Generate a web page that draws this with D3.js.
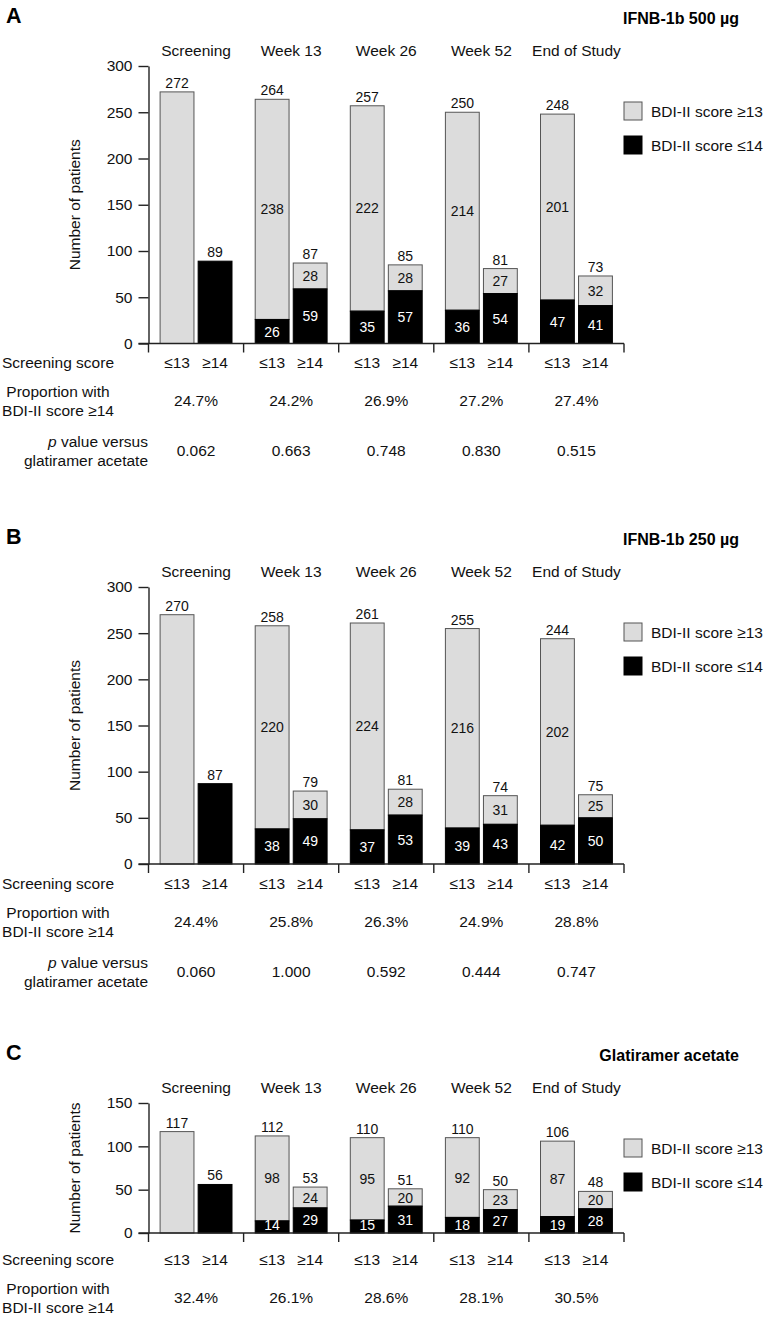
<!DOCTYPE html>
<html>
<head>
<meta charset="utf-8">
<script src="https://cdn.jsdelivr.net/npm/d3@7"></script>
<style>
  body { margin: 0; background: #fff; }
  svg { display: block; font-family: "Liberation Sans", Arial, Helvetica, sans-serif; }
</style>
</head>
<body>
<div id="chart"></div>
<script>
// categories
var timepoints = ["Screening", "Week 13", "Week 26", "Week 52", "End of Study"];
var scoreGroups = ["≤13", "≥14"];
var legendLabels = ["BDI-II score ≥13", "BDI-II score ≤14"];

// A: IFNB-1b 500 µg
var aLowGrey = [272, 238, 222, 214, 201];
var aLowBlack = [0, 26, 35, 36, 47];
var aHighGrey = [0, 28, 28, 27, 32];
var aHighBlack = [89, 59, 57, 54, 41];
var aProportion = ["24.7%", "24.2%", "26.9%", "27.2%", "27.4%"];
var aPValue = ["0.062", "0.663", "0.748", "0.830", "0.515"];

// B: IFNB-1b 250 µg
var bLowGrey = [270, 220, 224, 216, 202];
var bLowBlack = [0, 38, 37, 39, 42];
var bHighGrey = [0, 30, 28, 31, 25];
var bHighBlack = [87, 49, 53, 43, 50];
var bProportion = ["24.4%", "25.8%", "26.3%", "24.9%", "28.8%"];
var bPValue = ["0.060", "1.000", "0.592", "0.444", "0.747"];

// C: glatiramer acetate
var cLowGrey = [117, 98, 95, 92, 87];
var cLowBlack = [0, 14, 15, 18, 19];
var cHighGrey = [0, 24, 20, 23, 20];
var cHighBlack = [56, 29, 31, 27, 28];
var cProportion = ["32.4%", "26.1%", "28.6%", "28.1%", "30.5%"];

var bigTicks = [0, 50, 100, 150, 200, 250, 300];
var smallTicks = [0, 50, 100, 150];

var width = 765, height = 1318;
var grey = "#dcdcdc", black = "#000", ink = "#111";
var axisX = 148.5, groupEnd = 624;

var svg = d3.select("#chart").append("svg")
  .attr("width", width)
  .attr("height", height);

svg.append("rect").attr("width", width).attr("height", height).attr("fill", "#fff");

var panels = [
  { letter: "A", title: "IFNB-1b 500 µg", lowGrey: aLowGrey, lowBlack: aLowBlack,
    highGrey: aHighGrey, highBlack: aHighBlack, proportion: aProportion, pValue: aPValue,
    ticks: bigTicks, top: 66, zero: 343.5, rowBase: 343.5 },
  { letter: "B", title: "IFNB-1b 250 µg", lowGrey: bLowGrey, lowBlack: bLowBlack,
    highGrey: bHighGrey, highBlack: bHighBlack, proportion: bProportion, pValue: bPValue,
    ticks: bigTicks, top: 587, zero: 864, rowBase: 864.5 },
  { letter: "C", title: "Glatiramer acetate", lowGrey: cLowGrey, lowBlack: cLowBlack,
    highGrey: cHighGrey, highBlack: cHighBlack, proportion: cProportion, pValue: null,
    ticks: smallTicks, top: 1103, zero: 1233, rowBase: 1241 }
];

var xGroup = d3.scaleBand().domain(timepoints).range([axisX, groupEnd]);
var xSub = d3.scaleBand().domain(scoreGroups)
  .range([11.6, xGroup.bandwidth() - 11.6])
  .paddingInner(0.11);

function drawPanel(p) {
  var g = svg.append("g").attr("class", "panel");
  var y = d3.scaleLinear().domain([0, d3.max(p.ticks)]).range([p.zero, p.top]);

  // panel letter and title
  g.append("text")
    .attr("x", 6).attr("y", p.top - 43.5)
    .attr("font-size", "21.5px").attr("font-weight", "bold").attr("fill", "#000")
    .text(p.letter);
  g.append("text")
    .attr("x", 739).attr("y", p.top - 42)
    .attr("text-anchor", "end")
    .attr("font-size", "16px").attr("font-weight", "bold").attr("fill", "#000")
    .text(p.title);

  // column headers
  g.selectAll(".head")
    .data(timepoints)
    .enter()
    .append("text")
    .attr("class", "head")
    .attr("x", function(d) { return xGroup(d) + xGroup.bandwidth() / 2; })
    .attr("y", p.top - 10)
    .attr("text-anchor", "middle")
    .attr("font-size", "15.5px").attr("fill", ink)
    .text(function(d) { return d; });

  // bars: one record per (timepoint, score group)
  var bars = [];
  timepoints.forEach(function(t, i) {
    bars.push({ t: t, s: scoreGroups[0], grey: p.lowGrey[i], black: p.lowBlack[i] });
    bars.push({ t: t, s: scoreGroups[1], grey: p.highGrey[i], black: p.highBlack[i] });
  });
  var bx = function(d) { return xGroup(d.t) + xSub(d.s); };
  var bw = xSub.bandwidth();

  g.selectAll(".seg-grey")
    .data(bars.filter(function(d) { return d.grey > 0; }))
    .enter()
    .append("rect")
    .attr("class", "seg-grey")
    .attr("x", bx)
    .attr("width", bw)
    .attr("y", function(d) { return y(d.black + d.grey); })
    .attr("height", function(d) { return y(d.black) - y(d.black + d.grey); })
    .attr("fill", grey)
    .attr("stroke", "#555")
    .attr("stroke-width", 1);

  g.selectAll(".seg-black")
    .data(bars.filter(function(d) { return d.black > 0; }))
    .enter()
    .append("rect")
    .attr("class", "seg-black")
    .attr("x", bx)
    .attr("width", bw)
    .attr("y", function(d) { return y(d.black); })
    .attr("height", function(d) { return y(0) - y(d.black); })
    .attr("fill", black)
    .attr("stroke", black)
    .attr("stroke-width", 1);

  // totals above bars
  g.selectAll(".total")
    .data(bars)
    .enter()
    .append("text")
    .attr("class", "total")
    .attr("x", function(d) { return bx(d) + bw / 2; })
    .attr("y", function(d) { return y(d.grey + d.black) - 4; })
    .attr("text-anchor", "middle")
    .attr("font-size", "14px").attr("fill", ink)
    .text(function(d) { return d.grey + d.black; });

  // segment labels where a bar is split
  var split = bars.filter(function(d) { return d.grey > 0 && d.black > 0; });
  g.selectAll(".lab-grey")
    .data(split)
    .enter()
    .append("text")
    .attr("class", "lab-grey")
    .attr("x", function(d) { return bx(d) + bw / 2; })
    .attr("y", function(d) { return y(d.black + d.grey / 2); })
    .attr("dy", "0.36em")
    .attr("text-anchor", "middle")
    .attr("font-size", "14px").attr("fill", ink)
    .text(function(d) { return d.grey; });
  g.selectAll(".lab-black")
    .data(split)
    .enter()
    .append("text")
    .attr("class", "lab-black")
    .attr("x", function(d) { return bx(d) + bw / 2; })
    .attr("y", function(d) { return Math.min(y(d.black / 2), p.zero - 8); })
    .attr("dy", "0.36em")
    .attr("text-anchor", "middle")
    .attr("font-size", "14px").attr("fill", "#fff")
    .text(function(d) { return d.black; });

  // y axis
  var yAxis = g.append("g")
    .attr("transform", "translate(" + axisX + ",0)")
    .call(d3.axisLeft(y).tickValues(p.ticks).tickSize(10).tickPadding(6).tickSizeOuter(0));
  yAxis.attr("font-family", null).attr("font-size", null);
  yAxis.selectAll("text").attr("font-size", "15.5px").attr("fill", ink);
  yAxis.selectAll("line, path").attr("stroke", "#222").attr("stroke-width", 1.4);

  g.append("text")
    .attr("transform", "translate(80," + (p.top + p.zero) / 2 + ") rotate(-90)")
    .attr("text-anchor", "middle")
    .attr("font-size", "15.5px").attr("fill", ink)
    .text("Number of patients");

  // x axis line with group separators
  g.append("line")
    .attr("x1", axisX - 10).attr("x2", groupEnd)
    .attr("y1", p.zero).attr("y2", p.zero)
    .attr("stroke", "#222").attr("stroke-width", 1.4);
  var bounds = timepoints.map(function(d) { return xGroup(d); }).concat([groupEnd]);
  g.selectAll(".sep")
    .data(bounds)
    .enter()
    .append("line")
    .attr("class", "sep")
    .attr("x1", function(d) { return d; }).attr("x2", function(d) { return d; })
    .attr("y1", p.zero).attr("y2", p.zero + 9)
    .attr("stroke", "#222").attr("stroke-width", 1.4);

  // legend
  legendLabels.forEach(function(l, i) {
    var ly = p.top + 36 + i * 34;
    g.append("rect")
      .attr("x", 624).attr("y", ly).attr("width", 18).attr("height", 18)
      .attr("fill", i === 0 ? grey : black)
      .attr("stroke", i === 0 ? "#555" : black);
    g.append("text")
      .attr("x", 651).attr("y", ly + 9).attr("dy", "0.36em")
      .attr("font-size", "15.5px").attr("fill", ink)
      .text(l);
  });

  // rows under the chart
  var r = p.rowBase;
  g.append("text")
    .attr("x", 2).attr("y", r + 24)
    .attr("font-size", "15.5px").attr("fill", ink)
    .text("Screening score");
  g.selectAll(".grp")
    .data(bars)
    .enter()
    .append("text")
    .attr("class", "grp")
    .attr("x", function(d) { return bx(d) + bw / 2; })
    .attr("y", r + 24)
    .attr("text-anchor", "middle")
    .attr("font-size", "15.5px").attr("fill", ink)
    .text(function(d) { return d.s; });

  var prop = g.append("text")
    .attr("text-anchor", "middle")
    .attr("font-size", "15.5px").attr("fill", ink);
  prop.append("tspan").attr("x", 58).attr("y", r + 53).text("Proportion with");
  prop.append("tspan").attr("x", 58).attr("y", r + 72).text("BDI-II score ≥14");

  g.selectAll(".prop")
    .data(p.proportion)
    .enter()
    .append("text")
    .attr("class", "prop")
    .attr("x", function(d, i) { return xGroup(timepoints[i]) + xGroup.bandwidth() / 2; })
    .attr("y", r + 62)
    .attr("text-anchor", "middle")
    .attr("font-size", "15.5px").attr("fill", ink)
    .text(function(d) { return d; });

  if (p.pValue) {
    var pv = g.append("text")
      .attr("text-anchor", "end")
      .attr("font-size", "15.5px").attr("fill", ink);
    var l1 = pv.append("tspan").attr("x", 148).attr("y", r + 103);
    l1.append("tspan").attr("font-style", "italic").text("p");
    l1.append("tspan").text(" value versus");
    pv.append("tspan").attr("x", 148).attr("y", r + 122).text("glatiramer acetate");

    g.selectAll(".pval")
      .data(p.pValue)
      .enter()
      .append("text")
      .attr("class", "pval")
      .attr("x", function(d, i) { return xGroup(timepoints[i]) + xGroup.bandwidth() / 2; })
      .attr("y", r + 112)
      .attr("text-anchor", "middle")
      .attr("font-size", "15.5px").attr("fill", ink)
      .text(function(d) { return d; });
  }
}

panels.forEach(drawPanel);
</script>
</body>
</html>
